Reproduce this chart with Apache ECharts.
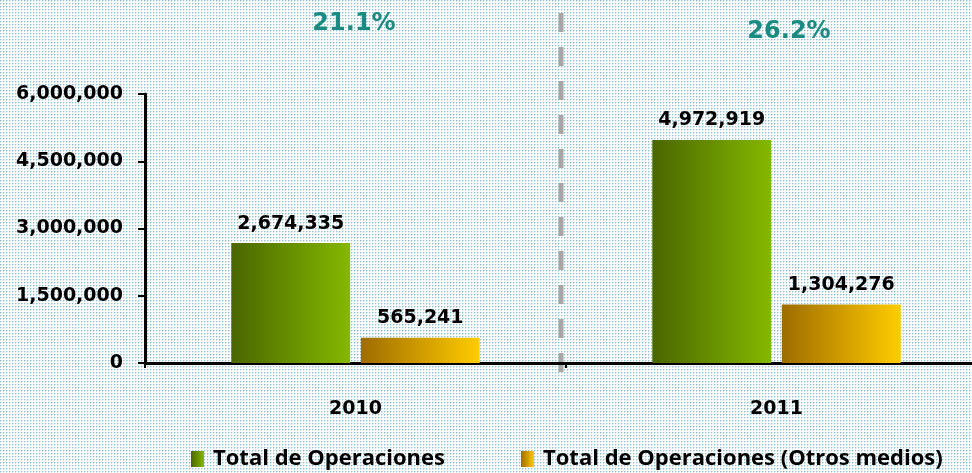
<!DOCTYPE html>
<html><head><meta charset="utf-8">
<script src="https://cdn.jsdelivr.net/npm/echarts@6/dist/echarts.min.js"></script>
<style>html,body{margin:0;padding:0;overflow:hidden;width:972px;height:473px;}#c{width:1000px;height:473px;}</style>
</head><body><div id="c"></div>
<script>
const categories = ['2010', '2011'];
const totalOps = [2674335, 4972919];
const otrosMedios = [565241, 1304276];
const pctLabels = ['21.1%', '26.2%'];
const yTicks = [0, 1500000, 3000000, 4500000, 6000000];
const seriesNames = ['Total de Operaciones', 'Total de Operaciones (Otros medios)'];

// dotted background tile
const tile = document.createElement('canvas');
tile.width = 3; tile.height = 3;
const tc = tile.getContext('2d');
tc.fillStyle = '#ffffff'; tc.fillRect(0,0,3,3);
tc.fillStyle = '#8fc0d4'; tc.fillRect(0,0,1,1);
tc.fillStyle = '#cfe5ee'; tc.fillRect(0,1,1,1); tc.fillRect(1,0,1,1);
document.body.style.background = 'url(' + tile.toDataURL() + ') repeat';

const fmt = v => v.toLocaleString('en-US');
const chart = echarts.init(document.getElementById('c'));
const FONT = 'DejaVu Sans';
const green = {type:'linear',x:0,y:0,x2:1,y2:0,colorStops:[{offset:0,color:'#4a6600'},{offset:1,color:'#84b800'}]};
const orange = {type:'linear',x:0,y:0,x2:1,y2:0,colorStops:[{offset:0,color:'#9e6c00'},{offset:1,color:'#ffcc00'}]};
const labelStyle = {show:true, position:'top', distance:10, color:'#000', fontFamily:FONT, fontWeight:'bold', fontSize:19, formatter:p=>fmt(p.value)};

chart.setOption({
  backgroundColor:'transparent',
  animation:false,
  grid:{left:145, top:94, bottom:110, width:842, containLabel:false},
  legend:{
    data:seriesNames, top:443, left:186, itemWidth:13, itemHeight:16, itemGap:76,
    textStyle:{fontFamily:'Open Sans', fontWeight:'bold', fontSize:22, color:'#000', padding:[0,0,0,4]},
    icon:'rect'
  },
  xAxis:{
    type:'category', data:categories,
    axisLine:{lineStyle:{color:'#000', width:3}},
    axisTick:{show:true, length:5, lineStyle:{color:'#000', width:2}},
    axisLabel:{color:'#000', fontFamily:FONT, fontWeight:'bold', fontSize:19, margin:37}
  },
  yAxis:{
    type:'value', min:0, max:6000000, interval:1500000,
    axisLine:{show:true, lineStyle:{color:'#000', width:3}},
    axisTick:{show:true, length:7, lineStyle:{color:'#000', width:2}},
    splitLine:{show:false},
    axisLabel:{color:'#000', fontFamily:FONT, fontWeight:'bold', fontSize:19, margin:22,
      formatter:v=>yTicks.includes(v)?fmt(v):''}
  },
  series:[
    {name:seriesNames[0], type:'bar', data:totalOps, itemStyle:{color:green}, barGap:'9%', barCategoryGap:'41%', label:labelStyle},
    {name:seriesNames[1], type:'bar', data:otrosMedios, itemStyle:{color:orange}, label:labelStyle}
  ],
  graphic:[
    {type:'line', shape:{x1:561,y1:13,x2:561,y2:378}, style:{stroke:'#a6a6a6', lineWidth:5, lineDash:[19,15]}},
    {type:'text', x:354, y:24, style:{text:pctLabels[0], fill:'#1a8a82', font:'bold 24px "DejaVu Sans"', textAlign:'center', textVerticalAlign:'middle'}},
    {type:'text', x:789, y:32, style:{text:pctLabels[1], fill:'#1a8a82', font:'bold 24px "DejaVu Sans"', textAlign:'center', textVerticalAlign:'middle'}}
  ]
});
</script></body></html>
